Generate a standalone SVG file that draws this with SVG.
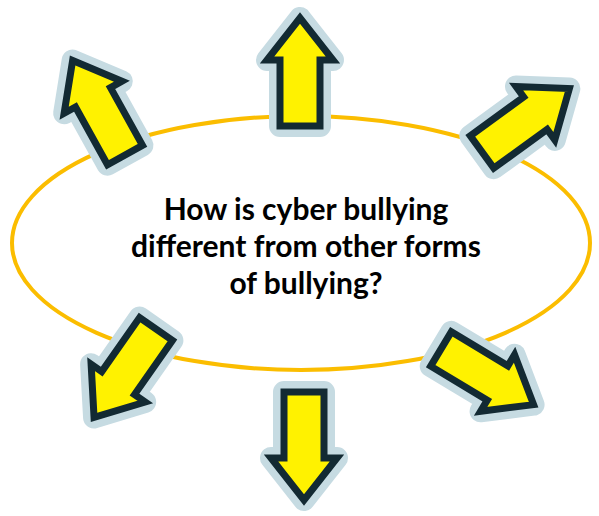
<svg xmlns="http://www.w3.org/2000/svg" xmlns:xlink="http://www.w3.org/1999/xlink" width="599" height="516" viewBox="0 0 599 516">
<style>
.halo{fill:#c6dbe2;stroke:#c6dbe2;stroke-width:22;stroke-linejoin:round}
.body{fill:#fff200;stroke:#132a33;stroke-width:7;stroke-linejoin:miter;stroke-miterlimit:10}
.ell{fill:#ffffff;stroke:#fbbd00;stroke-width:4}
.t{font-family:Lato,"Liberation Sans",sans-serif;font-weight:bold;font-size:30px;fill:#000;text-anchor:middle}
</style>
<defs>
<path id="ap" d="M-20,0 L-20,-66 L-33,-66 L0,-108 L33,-66 L20,-66 L20,0 Z"/>
<g id="arrow">
<use xlink:href="#ap" href="#ap" class="halo"/>
<use xlink:href="#ap" href="#ap" class="body"/>
</g>
</defs>
<g id="ellipse-node">
<ellipse class="ell" cx="301" cy="243" rx="289" ry="127"/>
<text class="t" x="306" y="220">How is cyber bullying</text>
<text class="t" x="306" y="257">different from other forms</text>
<text class="t" x="306" y="294">of bullying?</text>
</g>
<g id="connectors">
<g id="arrow-up"><use xlink:href="#arrow" href="#arrow" transform="translate(300,126)"/></g>
<g id="arrow-up-left"><use xlink:href="#arrow" href="#arrow" transform="translate(125,155) rotate(-29)"/></g>
<g id="arrow-up-right"><use xlink:href="#arrow" href="#arrow" transform="translate(482,152) rotate(54)"/></g>
<g id="arrow-down-left"><use xlink:href="#arrow" href="#arrow" transform="translate(156,329) rotate(-145)"/></g>
<g id="arrow-down"><use xlink:href="#arrow" href="#arrow" transform="translate(304,392) rotate(180)"/></g>
<g id="arrow-down-right"><use xlink:href="#arrow" href="#arrow" transform="translate(441,349) rotate(121)"/></g>
</g>
</svg>
